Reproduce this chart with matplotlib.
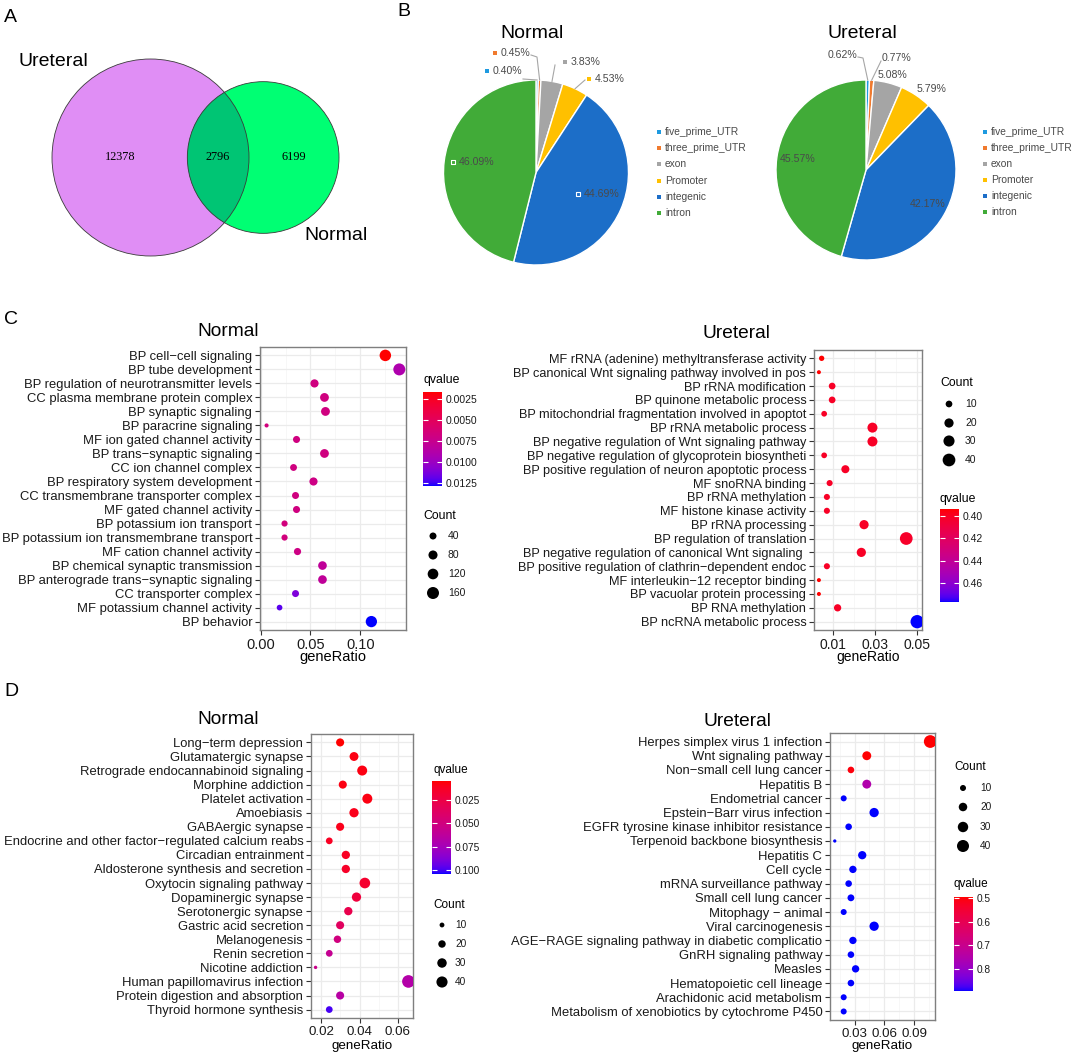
import numpy as np
import matplotlib
matplotlib.use("Agg")
import matplotlib.pyplot as plt
from matplotlib.patches import Circle
from matplotlib.colors import ListedColormap

plt.rcParams['font.family'] = ['Liberation Sans', 'DejaVu Sans']

# ------------------------------------------------------------------ data
venn_set_names = ["Ureteral", "Normal"]
venn_only_ureteral = 12378
venn_shared = 2796
venn_only_normal = 6199

pie_categories = ["five_prime_UTR", "three_prime_UTR", "exon", "Promoter", "integenic", "intron"]
pie_normal = [0.40, 0.45, 3.83, 4.53, 44.69, 46.09]
pie_ureteral = [0.62, 0.77, 5.08, 5.79, 42.17, 45.57]

go_normal_terms = ["BP cell−cell signaling", "BP tube development",
                   "BP regulation of neurotransmitter levels", "CC plasma membrane protein complex",
                   "BP synaptic signaling", "BP paracrine signaling", "MF ion gated channel activity",
                   "BP trans−synaptic signaling", "CC ion channel complex",
                   "BP respiratory system development", "CC transmembrane transporter complex",
                   "MF gated channel activity", "BP potassium ion transport",
                   "BP potassium ion transmembrane transport", "MF cation channel activity",
                   "BP chemical synaptic transmission", "BP anterograde trans−synaptic signaling",
                   "CC transporter complex", "MF potassium channel activity", "BP behavior"]
go_normal_ratio = [0.125, 0.139, 0.054, 0.064, 0.065, 0.006, 0.036, 0.064, 0.033, 0.053,
                   0.035, 0.036, 0.024, 0.024, 0.037, 0.062, 0.062, 0.035, 0.019, 0.111]
go_normal_count = [144, 160, 62, 74, 75, 7, 41, 74, 38, 61, 40, 41, 28, 28, 43, 71, 71, 40, 22, 138]
go_normal_q = [0.0017, 0.0090, 0.0068, 0.0068, 0.0068, 0.0066, 0.0068, 0.0068, 0.0068, 0.0070,
               0.0068, 0.0068, 0.0066, 0.0066, 0.0070, 0.0080, 0.0080, 0.0111, 0.0120, 0.0128]

go_ureteral_terms = ["MF rRNA (adenine) methyltransferase activity",
                     "BP canonical Wnt signaling pathway involved in pos", "BP rRNA modification",
                     "BP quinone metabolic process",
                     "BP mitochondrial fragmentation involved in apoptot", "BP rRNA metabolic process",
                     "BP negative regulation of Wnt signaling pathway",
                     "BP negative regulation of glycoprotein biosyntheti",
                     "BP positive regulation of neuron apoptotic process", "MF snoRNA binding",
                     "BP rRNA methylation", "MF histone kinase activity", "BP rRNA processing",
                     "BP regulation of translation", "BP negative regulation of canonical Wnt signaling ",
                     "BP positive regulation of clathrin−dependent endoc",
                     "MF interleukin−12 receptor binding", "BP vacuolar protein processing",
                     "BP RNA methylation", "BP ncRNA metabolic process"]
go_ureteral_ratio = [0.0045, 0.0032, 0.0095, 0.0095, 0.0057, 0.0287, 0.0287, 0.0057, 0.0158, 0.0083,
                     0.0070, 0.0070, 0.0247, 0.0448, 0.0234, 0.0070, 0.0032, 0.0032, 0.0121, 0.0500]
go_ureteral_count = [6, 3, 10, 10, 7, 24, 24, 7, 15, 8, 8, 8, 20, 40, 20, 8, 3, 3, 12, 44]
go_ureteral_q = [0.3937, 0.3937, 0.401, 0.401, 0.401, 0.401, 0.401, 0.401, 0.401, 0.401,
                 0.401, 0.401, 0.401, 0.402, 0.401, 0.401, 0.3937, 0.3937, 0.401, 0.477]

kegg_normal_terms = ["Long−term depression", "Glutamatergic synapse",
                     "Retrograde endocannabinoid signaling", "Morphine addiction",
                     "Platelet activation", "Amoebiasis", "GABAergic synapse",
                     "Endocrine and other factor−regulated calcium reabs", "Circadian entrainment",
                     "Aldosterone synthesis and secretion", "Oxytocin signaling pathway",
                     "Dopaminergic synapse", "Serotonergic synapse", "Gastric acid secretion",
                     "Melanogenesis", "Renin secretion", "Nicotine addiction",
                     "Human papillomavirus infection", "Protein digestion and absorption",
                     "Thyroid hormone synthesis"]
kegg_normal_ratio = [0.0298, 0.0371, 0.0414, 0.0312, 0.0441, 0.0371, 0.0298, 0.0241, 0.0328, 0.0328,
                     0.0428, 0.0384, 0.0341, 0.0298, 0.0284, 0.0241, 0.0169, 0.0657, 0.0298, 0.0241]
kegg_normal_count = [23, 27, 33, 23, 33, 29, 23, 17, 24, 24, 37, 29, 24, 23, 20, 17, 6, 50, 23, 17]
kegg_normal_q = [0.0046, 0.008, 0.008, 0.008, 0.008, 0.010, 0.010, 0.012, 0.012, 0.014,
                 0.016, 0.022, 0.028, 0.036, 0.050, 0.058, 0.055, 0.068, 0.066, 0.100]

kegg_ureteral_terms = ["Herpes simplex virus 1 infection", "Wnt signaling pathway",
                       "Non−small cell lung cancer", "Hepatitis B", "Endometrial cancer",
                       "Epstein−Barr virus infection", "EGFR tyrosine kinase inhibitor resistance",
                       "Terpenoid backbone biosynthesis", "Hepatitis C", "Cell cycle",
                       "mRNA surveillance pathway", "Small cell lung cancer", "Mitophagy − animal",
                       "Viral carcinogenesis", "AGE−RAGE signaling pathway in diabetic complicatio",
                       "GnRH signaling pathway", "Measles", "Hematopoietic cell lineage",
                       "Arachidonic acid metabolism", "Metabolism of xenobiotics by cytochrome P450"]
kegg_ureteral_ratio = [0.1063, 0.0423, 0.0263, 0.0423, 0.019, 0.0497, 0.024, 0.010, 0.0377, 0.0283,
                       0.024, 0.0263, 0.019, 0.0497, 0.0283, 0.0263, 0.031, 0.0263, 0.019, 0.019]
kegg_ureteral_count = [45, 22, 12, 22, 10, 24, 12, 3, 19, 15, 12, 13, 10, 24, 15, 12, 15, 12, 10, 10]
kegg_ureteral_q = [0.499, 0.500, 0.505, 0.754, 0.892, 0.892, 0.892, 0.892, 0.892, 0.892,
                   0.892, 0.892, 0.892, 0.892, 0.892, 0.892, 0.892, 0.892, 0.892, 0.892]

count_breaks_go_normal = [40, 80, 120, 160]
count_breaks_small = [10, 20, 30, 40]

# ------------------------------------------------------------------ helpers
W, H = 1072, 1055
fig = plt.figure(figsize=(W / 100, H / 100), dpi=100)
fig.patch.set_facecolor("white")


def rect(l, t, r, b):
    return [l / W, 1 - b / H, (r - l) / W, (b - t) / H]


ov = fig.add_axes([0, 0, 1, 1], zorder=20)
ov.set_xlim(0, W)
ov.set_ylim(H, 0)
ov.axis("off")
ov.patch.set_visible(False)


def lab_red_blue_cmap():
    red_lab = np.array([53.24, 80.09, 67.20])
    blue_lab = np.array([32.30, 79.19, -107.86])
    t = np.linspace(0, 1, 256)[:, None]
    lab = red_lab * (1 - t) + blue_lab * t
    L, a, b = lab[:, 0], lab[:, 1], lab[:, 2]
    fy = (L + 16) / 116
    fx = fy + a / 500
    fz = fy - b / 200

    def finv(v):
        return np.where(v > 6 / 29, v ** 3, 3 * (6 / 29) ** 2 * (v - 4 / 29))
    X = 0.95047 * finv(fx)
    Y = finv(fy)
    Z = 1.08883 * finv(fz)
    M = np.array([[3.2404542, -1.5371385, -0.4985314],
                  [-0.9692660, 1.8760108, 0.0415560],
                  [0.0556434, -0.2040259, 1.0572252]])
    lin = np.stack([X, Y, Z], axis=1) @ M.T
    lin = np.clip(lin, 0, 1)
    srgb = np.where(lin <= 0.0031308, 12.92 * lin, 1.055 * lin ** (1 / 2.4) - 0.055)
    return ListedColormap(np.clip(srgb, 0, 1))


gg_cmap = lab_red_blue_cmap()
TXT = "#1A1A1A"

# ------------------------------------------------------------------ panel letters
for letter, (x, y) in zip("ABCD", [(10, 17), (404, 12), (11, 320), (11, 692)]):
    ov.text(x, y, letter, fontsize=14, ha="center", va="center", color="black")

# ------------------------------------------------------------------ A: Venn
n_u = venn_only_ureteral + venn_shared
n_n = venn_only_normal + venn_shared
scale = 98.5 / np.sqrt(n_u)
r_u = scale * np.sqrt(n_u)
r_n = scale * np.sqrt(n_n)
target = np.pi * scale ** 2 * venn_shared


def lens_area(r1, r2, d):
    if d >= r1 + r2:
        return 0.0
    if d <= abs(r1 - r2):
        return np.pi * min(r1, r2) ** 2
    a1 = r1 ** 2 * np.arccos((d ** 2 + r1 ** 2 - r2 ** 2) / (2 * d * r1))
    a2 = r2 ** 2 * np.arccos((d ** 2 + r2 ** 2 - r1 ** 2) / (2 * d * r2))
    a3 = 0.5 * np.sqrt((-d + r1 + r2) * (d + r1 - r2) * (d - r1 + r2) * (d + r1 + r2))
    return a1 + a2 - a3


lo, hi = abs(r_u - r_n) + 1e-6, r_u + r_n
for _ in range(80):
    mid = 0.5 * (lo + hi)
    if lens_area(r_u, r_n, mid) > target:
        lo = mid
    else:
        hi = mid
dist = 0.5 * (lo + hi)
cu = (150.5, 157.5)
cn = (150.5 + dist, 157.5)

ov.add_patch(Circle(cu, r_u, fc="#E08EF5", ec="none"))
ov.add_patch(Circle(cn, r_n, fc="#00FF73", ec="none"))
lens = Circle(cn, r_n, fc="#00C574", ec="none")
ov.add_patch(lens)
lens.set_clip_path(Circle(cu, r_u, transform=ov.transData))
ov.add_patch(Circle(cu, r_u, fill=False, ec="#3A3A3A", lw=0.6))
ov.add_patch(Circle(cn, r_n, fill=False, ec="#3A3A3A", lw=0.6))

x_left = 0.5 * ((cu[0] - r_u) + (cn[0] - r_n))
x_mid = 0.5 * ((cn[0] - r_n) + (cu[0] + r_u))
x_right = 0.5 * ((cu[0] + r_u) + (cn[0] + r_n))
for xx, val in zip([x_left, x_mid, x_right], [venn_only_ureteral, venn_shared, venn_only_normal]):
    ov.text(xx, cu[1], str(val), ha="center", va="center", fontsize=8.8,
            family=["Liberation Serif", "DejaVu Serif"], color="black")
ov.text(53, 61, venn_set_names[0], ha="center", va="center", fontsize=14)
ov.text(336, 235, venn_set_names[1], ha="center", va="center", fontsize=14)

# ------------------------------------------------------------------ B: pies
pie_colors = ["#1E9AE0", "#F07A2E", "#A5A5A5", "#FFC000", "#1C6EC8", "#41AB38"]
PIE_TXT = "#4A4A4A"


def draw_pie(cx, cy, r, values, title, label_spec, markers, legend_x, legend_ys):
    m = 4
    ax = fig.add_axes(rect(cx - r - m, cy - r - m, cx + r + m, cy + r + m))
    wedges, _ = ax.pie(values, colors=pie_colors, startangle=90, counterclock=False, radius=1,
                       wedgeprops=dict(edgecolor="white", linewidth=1.0))
    R = (r + m) / r
    ax.set_xlim(-R, R)
    ax.set_ylim(-R, R)
    ax.set_aspect("equal")
    ax.axis("off")
    ov.text(cx - 4, 33, title, ha="center", va="center", fontsize=14, color="black")
    for i, (w, v) in enumerate(zip(wedges, values)):
        tx, ty, leader = label_spec[i]
        if markers:
            ov.scatter([tx - 6], [ty], marker="s", s=(0.72 * 4.5) ** 2,
                       c=[pie_colors[i]], edgecolors="white" if i >= 4 else "none",
                       linewidths=0.8)
        ov.text(tx, ty, f"{v:.2f}%", ha="left", va="center", fontsize=7.6, color=PIE_TXT)
        if leader is not None:
            th = np.deg2rad(0.5 * (w.theta1 + w.theta2))
            ex, ey = cx + r * np.cos(th), cy - r * np.sin(th)
            pts = list(leader) + [(ex, ey)]
            ov.plot([p[0] for p in pts], [p[1] for p in pts], color="#A6A6A6", lw=0.8)
    for i, (name, y) in enumerate(zip(pie_categories, legend_ys)):
        ov.scatter([legend_x], [y], marker="s", s=(0.72 * 4) ** 2, c=[pie_colors[i]], edgecolors="none")
        ov.text(legend_x + 6, y, name, ha="left", va="center", fontsize=7.4, color=PIE_TXT)


normal_spec = [(493, 71, [(523, 79)]),
               (501, 53, [(531, 55), (537, 57)]),
               (571, 62, [(555, 65)]),
               (595, 79, [(585, 80)]),
               (584, 194, None),
               (459, 162, None)]
draw_pie(536, 172.5, 92.5, pie_normal, "Normal", normal_spec, True, 659,
         [132, 148, 164, 181, 197, 213])

ureteral_spec = [(828, 55, [(858, 57), (863, 58)]),
                 (882, 58, [(881, 61)]),
                 (878, 75, None),
                 (917, 89, None),
                 (910, 204, None),
                 (780, 159, None)]
draw_pie(866, 170, 90, pie_ureteral, "Ureteral", ureteral_spec, False, 985,
         [132, 148, 164, 180, 196, 212])

# ------------------------------------------------------------------ C / D dot plots


def dotplot(terms, ratio, count, qval, box, xlim, xticks, xticklabels, xminor, qlim,
            size_a, size_b, tick_fs, ylab_fs, title, title_xy, xlabel_xy):
    ax = fig.add_axes(rect(*box))
    n = len(terms)
    ypos = np.arange(n)
    diam = size_a + size_b * np.sqrt(np.asarray(count, float))
    sc = ax.scatter(ratio, ypos, s=(0.72 * diam) ** 2, c=qval, cmap=gg_cmap,
                    vmin=qlim[0], vmax=qlim[1], edgecolors="none", zorder=3)
    ax.set_xlim(*xlim)
    ax.set_ylim(n - 1 + 0.6, -0.6)
    ax.set_yticks(ypos)
    ax.set_yticklabels(terms, fontsize=ylab_fs, color=TXT)
    ax.set_xticks(xticks)
    ax.set_xticklabels(xticklabels, fontsize=tick_fs, color=TXT)
    ax.set_xticks(xminor, minor=True)
    ax.set_yticks([], minor=True)
    ax.grid(which="major", color="#EBEBEB", lw=0.9)
    ax.grid(which="minor", axis="x", color="#F4F4F4", lw=0.5)
    ax.set_axisbelow(True)
    ax.tick_params(which="major", length=3.5, width=0.8, color="#333333", pad=2)
    ax.tick_params(which="minor", length=0)
    for s in ax.spines.values():
        s.set_color("#7F7F7F")
        s.set_linewidth(1.0)
    ov.text(title_xy[0], title_xy[1], title, ha="center", va="center", fontsize=13.8, color="black")
    ov.text(xlabel_xy[0], xlabel_xy[1], "geneRatio", ha="center", va="center", fontsize=tick_fs,
            color="black")
    return sc


def qbar(sc, box, qticks, qlabels, title_xy, fs_t, fs_l):
    cax = fig.add_axes(rect(*box))
    cb = fig.colorbar(sc, cax=cax)
    cb.set_ticks(qticks)
    cb.set_ticklabels(qlabels)
    cb.outline.set_visible(False)
    cax.invert_yaxis()
    cax.tick_params(direction="in", length=3.5, width=0.8, color="white", left=True, right=True,
                    labelsize=fs_l, pad=2.5, labelcolor=TXT)
    ov.text(title_xy[0], title_xy[1], "qvalue", ha="left", va="center", fontsize=fs_t, color="black")


def size_legend(breaks, title_xy, ys, xdot, xlab, size_a, size_b, fs_t, fs_l):
    ov.text(title_xy[0], title_xy[1], "Count", ha="left", va="center", fontsize=fs_t, color="black")
    d = size_a + size_b * np.sqrt(np.asarray(breaks, float))
    ov.scatter([xdot] * len(breaks), ys, s=(0.72 * d) ** 2, c="black", edgecolors="none")
    for b, y in zip(breaks, ys):
        ov.text(xlab, y, str(b), ha="left", va="center", fontsize=fs_l, color=TXT)


# C Normal
sc = dotplot(go_normal_terms, go_normal_ratio, go_normal_count, go_normal_q,
             (260, 347, 406, 630), (-0.0006, 0.1457), [0.0, 0.05, 0.10], ["0.00", "0.05", "0.10"],
             [0.025, 0.075, 0.125], (0.0017, 0.0128), 2.0, 0.79, 10.5, 9.4,
             "Normal", (228, 332), (333, 657))
qbar(sc, (423, 392, 442, 486), [0.0025, 0.005, 0.0075, 0.01, 0.0125],
     ["0.0025", "0.0050", "0.0075", "0.0100", "0.0125"], (423, 380), 8.8, 7.5)
size_legend(count_breaks_go_normal, (423, 516), [536, 555, 574, 593], 433, 448, 2.0, 0.79, 8.8, 7.5)

# C Ureteral
sc = dotplot(go_ureteral_terms, go_ureteral_ratio, go_ureteral_count, go_ureteral_q,
             (814, 350, 922, 630), (0.00086, 0.0523), [0.01, 0.03, 0.05], ["0.01", "0.03", "0.05"],
             [0.02, 0.04], (0.3937, 0.477), 0.7, 1.9, 10.0, 9.2,
             "Ureteral", (736, 333), (868, 657))
qbar(sc, (940, 509, 959, 602), [0.40, 0.42, 0.44, 0.46], ["0.40", "0.42", "0.44", "0.46"],
     (940, 499), 8.8, 7.5)
size_legend(count_breaks_small, (940, 383), [404, 423, 441, 460], 949, 965, 0.7, 1.9, 8.8, 7.5)

# D Normal
sc = dotplot(kegg_normal_terms, kegg_normal_ratio, kegg_normal_count, kegg_normal_q,
             (311, 734, 413, 1018), (0.0145, 0.0681), [0.02, 0.04, 0.06], ["0.02", "0.04", "0.06"],
             [0.03, 0.05], (0.0046, 0.1043), -1.5, 2.0, 9.6, 9.4,
             "Normal", (228, 719), (362, 1046))
qbar(sc, (432, 781, 451, 874), [0.025, 0.05, 0.075, 0.1], ["0.025", "0.050", "0.075", "0.100"],
     (433, 770), 8.5, 7.3)
size_legend(count_breaks_small, (433, 905), [925, 944, 963, 982], 442, 455, -1.5, 2.0, 8.5, 7.3)

# D Ureteral
sc = dotplot(kegg_ureteral_terms, kegg_ureteral_ratio, kegg_ureteral_count, kegg_ureteral_q,
             (830, 733, 935, 1020), (0.0052, 0.1111), [0.03, 0.06, 0.09], ["0.03", "0.06", "0.09"],
             [0.015, 0.045, 0.075, 0.105], (0.497, 0.892), 0.0, 1.9, 9.6, 9.4,
             "Ureteral", (737, 722), (882, 1046))
qbar(sc, (954, 897, 973, 991), [0.5, 0.6, 0.7, 0.8], ["0.5", "0.6", "0.7", "0.8"],
     (954, 884), 8.5, 7.3)
size_legend(count_breaks_small, (954, 767), [788, 807, 827, 846], 963, 980, 0.0, 1.9, 8.5, 7.3)

fig.savefig("out.png", dpi=100, facecolor="white")
